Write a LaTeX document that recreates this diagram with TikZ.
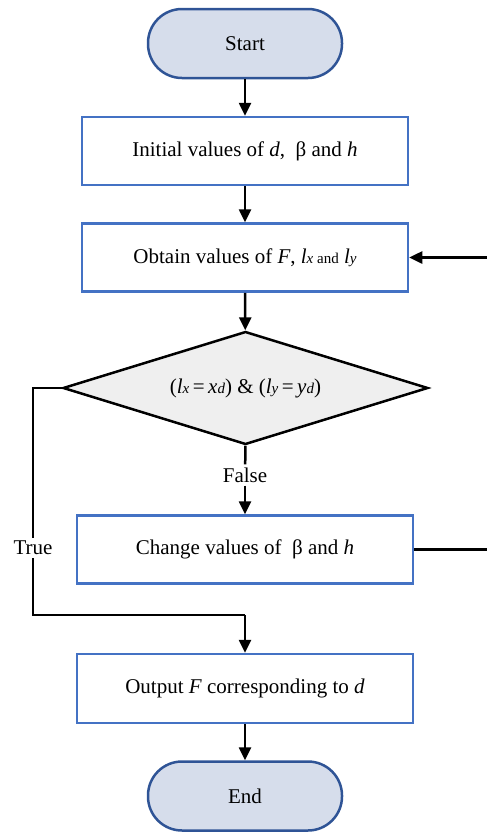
\documentclass[tikz,border=0pt]{standalone}
\usepackage{fontspec}
\setmainfont{Liberation Serif}
\usepackage{tikz}
\usetikzlibrary{arrows.meta,shapes.geometric}
\usepackage{xcolor}
\definecolor{procblue}{HTML}{4472C4}
\definecolor{termblue}{HTML}{2F5496}
\definecolor{termfill}{HTML}{D6DDEB}
\definecolor{decfill}{HTML}{EFEFEF}

\tikzset{
  procbox/.style={draw=procblue, line width=2.5pt, fill=white, minimum width=326pt, minimum height=68pt, inner sep=0pt},
  termbox/.style={draw=termblue, line width=2.5pt, fill=termfill, rounded corners=34pt, minimum width=194pt, minimum height=69pt, inner sep=0pt},
  decbox/.style={diamond, draw=black, line width=2.5pt, fill=decfill, aspect=3.2, minimum width=365pt, minimum height=113pt, inner sep=0pt},
  flow/.style={line width=2.5pt, -{Triangle[length=13pt,width=12pt]}},
  flowline/.style={line width=2.5pt},
  lbl/.style={fill=white, inner sep=3pt}
}
\newcommand{\sm}[1]{{\fontsize{15}{17}\selectfont #1}}

\begin{document}
\begin{tikzpicture}[x=1pt, y=-1pt, font=\fontsize{21}{25}\selectfont]
  \useasboundingbox (0,0) rectangle (487,833);

  % blocks
  \node[termbox] (start) at (245,43.5) {Start};
  \node[procbox] (init) at (245,151) {Initial values of \textit{d},~~β and \textit{h}};
  \node[procbox] (obtain) at (245,257.5) {Obtain values of \textit{F}, \textit{l}\sm{\textit{x} and} \textit{l}\sm{\textit{y}}};
  \node[decbox] (cond) at (245.5,388) {(\textit{l}\sm{\textit{x}}\,=\,\textit{x}\sm{\textit{d}}) \& (\textit{l}\sm{\textit{y}}\,=\,\textit{y}\sm{\textit{d}})};
  \node[procbox, minimum width=336pt] (change) at (245,549.5) {Change values of~~β and \textit{h}};
  \node[procbox, minimum width=336pt, minimum height=69pt] (output) at (245,688.5) {Output \textit{F} corresponding to \textit{d}};
  \node[termbox] (end) at (245,796) {End};

  % labels on the branches
  \node[lbl] (false) at (245,475) {False};
  \node[lbl] (true) at (33,548) {True};

  % helper points
  \coordinate (rtop) at (490,257.5);
  \coordinate (rbot) at (490,549.5);
  \coordinate (lft) at (33,388);
  \coordinate (lbot) at (33,615);
  \coordinate (mbot) at (245,615);

  % connectors
  \draw[flow] (start) -- (init);
  \draw[flow] (init) -- (obtain);
  \draw[flow] (obtain) -- (cond);
  \draw[flowline] (cond.south) -- (false);
  \draw[flow] (false) -- (change.north);
  \draw[flowline] (change.east) -- (rbot) -- (rtop);
  \draw[flow] (rtop) -- (obtain.east);
  \draw[flowline] (cond.west) -- (lft) -- (true);
  \draw[flowline] (true) -- (lbot) -- (mbot);
  \draw[flow] (mbot) -- (output.north);
  \draw[flow] (output) -- (end);
\end{tikzpicture}
\end{document}
